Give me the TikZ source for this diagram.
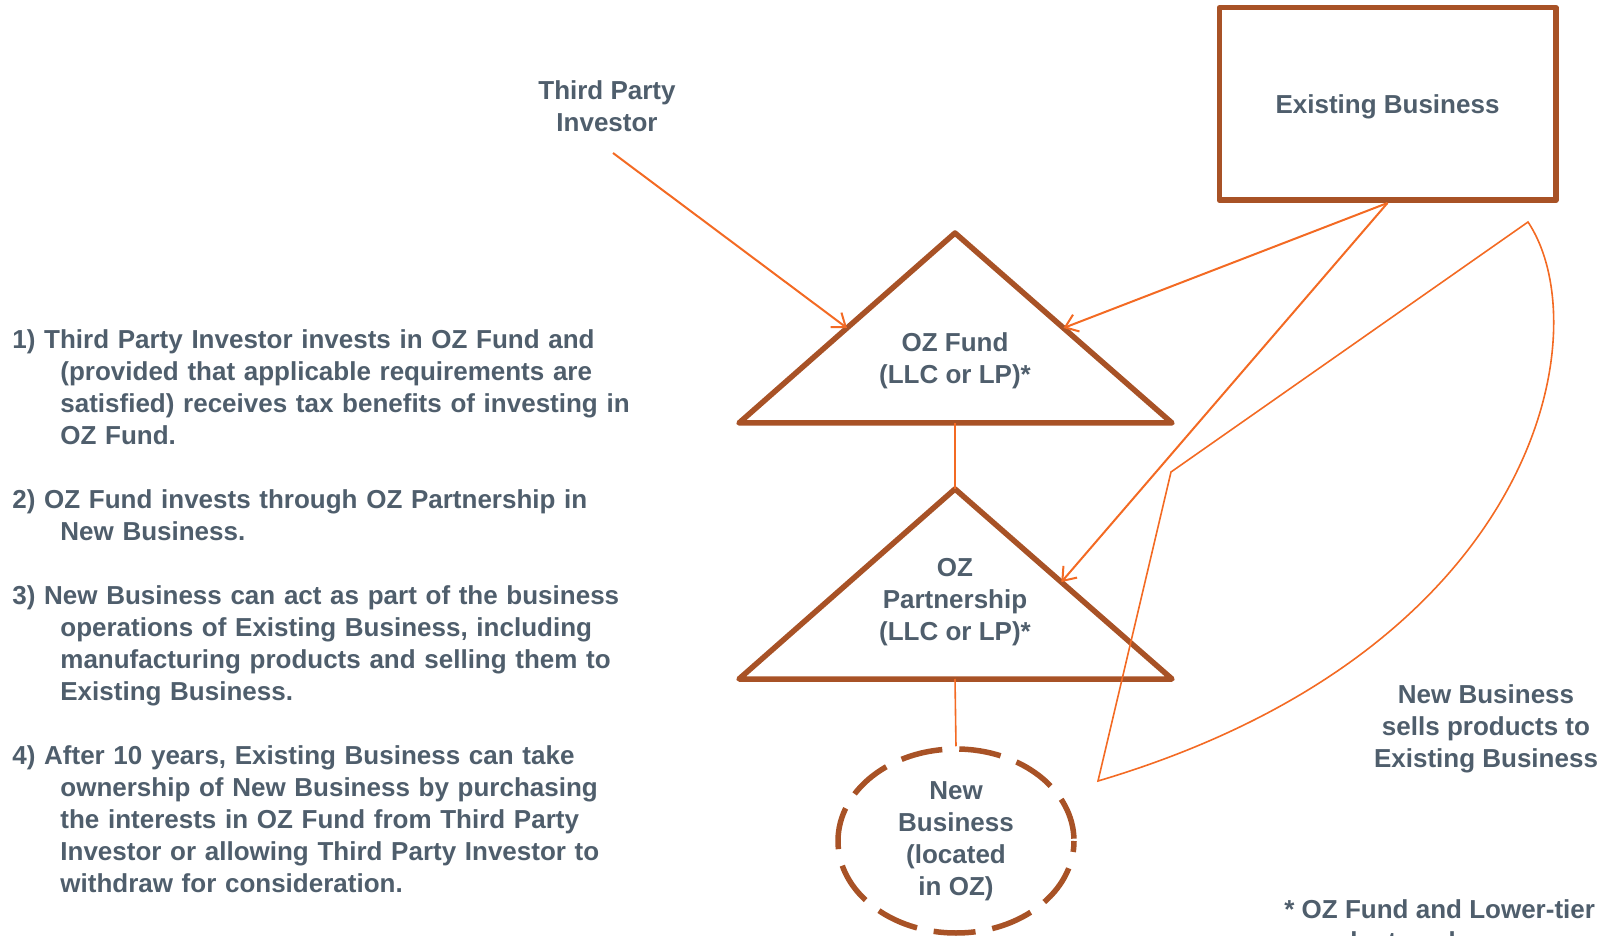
\documentclass[tikz,border=0pt]{standalone}
\usepackage{fontspec}
\setmainfont{Liberation Sans}
\usetikzlibrary{shapes.geometric,calc,arrows.meta}
\definecolor{slate}{RGB}{79,94,108}
\definecolor{rust}{RGB}{168,82,38}
\definecolor{flame}{RGB}{243,106,35}

\begin{document}
\begin{tikzpicture}[x=0.5pt,y=-0.5pt,
  every node/.style={font=\fontsize{13}{16}\selectfont\bfseries,text=slate,inner sep=0pt},
  shapeline/.style={draw=rust,line width=2.75pt,line join=round},
  link/.style={draw=flame,line width=1pt},
  thinlink/.style={draw=flame,line width=0.8pt},
  >={Straight Barb[length=6pt,width=9pt]}]
\useasboundingbox (0,0) rectangle (1603,936);
\clip (0,0) rectangle (1603,936);

% numbered steps
\node[anchor=base west,text width=330pt,align=left] (steps) at (12,349)
  {1) Third Party Investor invests in OZ Fund and\\
   \hspace*{24pt}(provided that applicable requirements are\\
   \hspace*{24pt}satisfied) receives tax benefits of investing in\\
   \hspace*{24pt}OZ Fund.\\[16pt]
   2) OZ Fund invests through OZ Partnership in\\
   \hspace*{24pt}New Business.\\[16pt]
   3) New Business can act as part of the business\\
   \hspace*{24pt}operations of Existing Business, including\\
   \hspace*{24pt}manufacturing products and selling them to\\
   \hspace*{24pt}Existing Business.\\[16pt]
   4) After 10 years, Existing Business can take\\
   \hspace*{24pt}ownership of New Business by purchasing\\
   \hspace*{24pt}the interests in OZ Fund from Third Party\\
   \hspace*{24pt}Investor or allowing Third Party Investor to\\
   \hspace*{24pt}withdraw for consideration.};

\node[align=center] (investor) at (607,106) {Third Party\\Investor};
\coordinate (inv-out) at (613,153);
\node[shapeline,minimum width=168.25pt,minimum height=96.25pt,text depth=0pt] (existing) at (1387.5,104) {Existing Business};

% OZ Fund
\coordinate (fund-top) at (955,233);
\coordinate (fund-left) at (739,423);
\coordinate (fund-right) at (1172,423);
\coordinate (fund-base) at (955,423);
\draw[shapeline] (fund-top) -- (fund-left) -- (fund-right) -- cycle;
\node[align=center] (fund) at (955,361) {OZ Fund\\(LLC or LP)*};

% OZ Partnership
\coordinate (part-top) at (955,489);
\coordinate (part-left) at (739,679);
\coordinate (part-right) at (1172,679);
\coordinate (part-base) at (955,679);
\draw[shapeline] (part-top) -- (part-left) -- (part-right) -- cycle;
\node[align=center] (part) at (955,602) {OZ\\Partnership\\(LLC or LP)*};

\node[ellipse,draw=rust,line width=2.75pt,dash pattern=on 21pt off 8.5pt,dash phase=28.35pt,
  minimum width=118pt,minimum height=92pt,align=center] (newbiz) at (956,841)
  {New\\Business\\(located\\in OZ)};

\draw[thinlink] (fund-base) -- (part-top);
\draw[thinlink] (part-base) -- (newbiz.north);
\draw[link,->] (inv-out) -- ($(fund-top)!.5!(fund-left)$);
\draw[link,->] (existing.south) -- ($(fund-top)!.5!(fund-right)$);
\draw[link,->] (existing.south) -- ($(part-top)!.49!(part-right)$);

% sales loop
\draw[thinlink,line join=miter] (1098,781) -- (1171,472) -- (1528,222)
  .. controls (1600,330) and (1540,650) .. (1098,781) -- cycle;

\node[align=center] (sells) at (1486,729) {New Business\\sells products to\\Existing Business};
\node[anchor=base west,align=left] (note) at (1284,950)
  {* OZ Fund and Lower-tier\\\hspace*{33pt}be taxed as a corporation};
\end{tikzpicture}
\end{document}
